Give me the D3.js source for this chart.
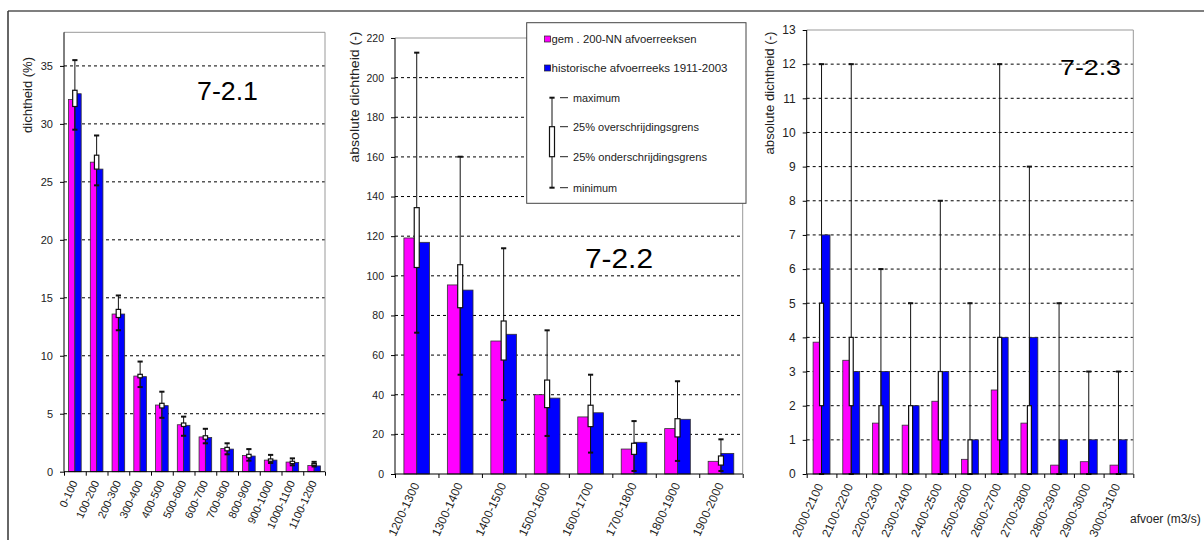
<!DOCTYPE html>
<html>
<head>
<meta charset="utf-8">
<script src="https://cdn.jsdelivr.net/npm/d3@7"></script>
<style>
  html, body { margin: 0; padding: 0; background: #fff; }
  svg { display: block; font-family: "Liberation Sans", Arial, sans-serif; }
</style>
</head>
<body>
<svg id="chart" width="1204" height="540"></svg>
<script>
// ---- 7-2.1 : relative density (%) per discharge class 0-1200 m3/s ----
const catsA = ["0-100","100-200","200-300","300-400","400-500","500-600","600-700","700-800","800-900","900-1000","1000-1100","1100-1200"];
const genA  = [32.1, 26.7, 13.6, 8.25, 5.75, 4.05, 3.0, 2.0, 1.4, 1.0, 0.83, 0.53];
const histA = [32.6, 26.1, 13.6, 8.2, 5.7, 4.0, 2.95, 1.95, 1.35, 1.0, 0.8, 0.5];
const maxA  = [35.5, 29.0, 15.2, 9.5, 6.9, 4.75, 3.7, 2.45, 1.95, 1.45, 1.15, 0.85];
const upA   = [32.9, 27.3, 14.0, 8.4, 5.9, 4.2, 3.1, 2.1, 1.5, 1.1, 0.9, 0.7];
const loA   = [31.5, 26.1, 13.3, 8.1, 5.5, 3.9, 2.8, 1.8, 1.2, 0.9, 0.7, 0.55];
const minA  = [29.5, 24.7, 12.2, 7.3, 4.65, 3.1, 2.45, 1.5, 0.95, 0.75, 0.55, 0.45];
const ticksA = [0, 5, 10, 15, 20, 25, 30, 35];

// ---- 7-2.2 : absolute density per discharge class 1200-2000 m3/s ----
const catsB = ["1200-1300","1300-1400","1400-1500","1500-1600","1600-1700","1700-1800","1800-1900","1900-2000"];
const genB  = [119.1, 95.4, 67.1, 40.0, 28.8, 12.6, 22.9, 6.4];
const histB = [116.9, 92.8, 70.5, 38.3, 30.9, 16.0, 27.6, 10.4];
const maxB  = [212.6, 160.1, 113.9, 72.5, 50.1, 26.7, 46.8, 17.5];
const upB   = [134.4, 105.6, 77.2, 47.4, 34.7, 15.5, 27.9, 9.1];
const loB   = [104.2, 83.9, 57.5, 33.5, 23.9, 9.9, 18.7, 4.5];
const minB  = [71.3, 50.1, 37.3, 19.2, 10.8, 1.5, 6.6, 1.5];
const ticksB = [0, 20, 40, 60, 80, 100, 120, 140, 160, 180, 200, 220];

// ---- 7-2.3 : absolute density per discharge class 2000-3100 m3/s ----
const catsC = ["2000-2100","2100-2200","2200-2300","2300-2400","2400-2500","2500-2600","2600-2700","2700-2800","2800-2900","2900-3000","3000-3100"];
const genC  = [3.86, 3.33, 1.49, 1.43, 2.13, 0.43, 2.46, 1.49, 0.26, 0.36, 0.26];
const histC = [7, 3, 3, 2, 3, 1, 4, 4, 1, 1, 1];
const maxC  = [12, 12, 6, 5, 8, 5, 12, 9, 5, 3, 3];
const upC   = [5, 4, 2, 2, 3, 1, 4, 2, 0, 0, 0];
const loC   = [2, 2, 0, 0, 1, 0, 1, 0, 0, 0, 0];
const minC  = [0, 0, 0, 0, 0, 0, 0, 0, 0, 0, 0];
const ticksC = [0, 1, 2, 3, 4, 5, 6, 7, 8, 9, 10, 11, 12, 13];

const seriesNames = ["gem . 200-NN afvoerreeksen", "historische afvoerreeks 1911-2003"];
const errorNames = ["maximum", "25% overschrijdingsgrens", "25% onderschrijdingsgrens", "minimum"];

const COL_GEN = "#ff00ff", COL_HIST = "#0000ff";

const svg = d3.select("#chart");

// outer frame (top and left edge)
svg.append("line").attr("x1", 8).attr("x2", 1204).attr("y1", 11).attr("y2", 11)
  .attr("stroke", "#555").attr("stroke-width", 1.5);
svg.append("line").attr("x1", 8).attr("x2", 8).attr("y1", 11).attr("y2", 540)
  .attr("stroke", "#333").attr("stroke-width", 1.5);

function panel(cfg) {
  const { cats, gen, hist, max, up, lo, min, ticks } = cfg;
  const g = svg.append("g");
  const x = d3.scaleBand().domain(cats).range([cfg.left, cfg.right]).padding(0);
  const xi = d3.scaleLinear().domain([0, cats.length]).range([cfg.left, cfg.right]);
  const y = d3.scaleLinear().domain([0, cfg.ymax]).range([cfg.bottom, cfg.top]);
  const gw = x.bandwidth() * cfg.group;
  const inner = d3.scaleBand().domain(["gen", "hist"])
    .range([(x.bandwidth() - gw) / 2, (x.bandwidth() + gw) / 2]).padding(0);

  // gridlines
  g.append("g").selectAll("line").data(ticks.filter(t => t > 0 && y(t) > cfg.top + 1)).join("line")
    .attr("x1", cfg.left).attr("x2", cfg.right)
    .attr("y1", d => y(d)).attr("y2", d => y(d))
    .attr("stroke", "#000").attr("stroke-dasharray", "3,3").attr("stroke-width", 1);

  // plot frame (top & right)
  g.append("path")
    .attr("d", `M${cfg.left},${y(cfg.ymax)}H${cfg.right}V${cfg.bottom}`)
    .attr("fill", "none").attr("stroke", "#999").attr("stroke-width", 1);

  // bars
  const rows = cats.map((c, i) => ({ c, gen: gen[i], hist: hist[i], max: max[i], up: up[i], lo: lo[i], min: min[i] }));
  const grp = g.append("g").selectAll("g").data(rows).join("g")
    .attr("transform", d => `translate(${x(d.c)},0)`);
  grp.append("rect")
    .attr("x", inner("gen")).attr("width", inner.bandwidth())
    .attr("y", d => y(d.gen)).attr("height", d => y(0) - y(d.gen))
    .attr("fill", COL_GEN).attr("stroke", "#333").attr("stroke-width", 0.8);
  grp.append("rect")
    .attr("x", inner("hist")).attr("width", inner.bandwidth())
    .attr("y", d => y(d.hist)).attr("height", d => y(0) - y(d.hist))
    .attr("fill", COL_HIST).attr("stroke", "#333").attr("stroke-width", 0.8);

  // spread markers: whisker min..max, box between 25% limits
  const cx = x.bandwidth() / 2;
  grp.append("line").attr("x1", cx).attr("x2", cx)
    .attr("y1", d => y(d.max)).attr("y2", d => y(d.min))
    .attr("stroke", "#111").attr("stroke-width", 1);
  grp.append("rect")
    .attr("x", cx - cfg.boxW / 2).attr("width", cfg.boxW)
    .attr("y", d => y(d.up)).attr("height", d => Math.max(0.01, y(d.lo) - y(d.up)))
    .attr("fill", "#fff").attr("stroke", "#111").attr("stroke-width", 1.2);
  ["max", "min"].forEach(k => {
    grp.append("line").attr("x1", cx - 2.6).attr("x2", cx + 2.6)
      .attr("y1", d => y(d[k])).attr("y2", d => y(d[k]))
      .attr("stroke", "#111").attr("stroke-width", 2);
  });

  // y axis
  g.append("g").attr("transform", `translate(${cfg.left},0)`)
    .call(d3.axisLeft(y).tickValues(ticks).tickSize(4).tickPadding(cfg.tickPad).tickFormat(d3.format("d")))
    .call(a => a.select(".domain").attr("stroke", "#000").attr("d", `M0,${cfg.bottom}V${y(cfg.ymax)}`))
    .call(a => a.selectAll("line").attr("stroke", "#000"))
    .call(a => a.selectAll("text").attr("font-size", cfg.tickFont).attr("fill", "#222")
      .attr("font-family", "Liberation Sans, Arial, sans-serif"));

  // x axis: ticks on class boundaries
  g.append("g").attr("transform", `translate(0,${cfg.bottom})`)
    .call(d3.axisBottom(xi).tickValues(d3.range(cats.length + 1)).tickSize(4).tickFormat(""))
    .call(a => a.select(".domain").attr("stroke", "#000").attr("d", `M${cfg.left},0H${cfg.right}`))
    .call(a => a.selectAll("line").attr("stroke", "#000"));

  // rotated class labels
  g.append("g").selectAll("text").data(cats).join("text")
    .attr("transform", d => `translate(${x(d) + cx + cfg.lblDx},${cfg.bottom + cfg.lblDy}) rotate(-65)`)
    .attr("text-anchor", "end").attr("font-size", cfg.lblFont).attr("fill", "#222")
    .text(d => d);

  // y title
  g.append("text")
    .attr("transform", `translate(${cfg.yTitleX},${cfg.yTitleY}) rotate(-90)`)
    .attr("text-anchor", "middle").attr("font-size", cfg.yTitleFont).attr("fill", "#222")
    .attr("textLength", cfg.yTitleLen).attr("lengthAdjust", "spacingAndGlyphs")
    .text(cfg.yTitle);

  // panel number
  g.append("text").attr("x", cfg.numX).attr("y", cfg.numY)
    .attr("font-size", cfg.numFont).attr("fill", "#000")
    .attr("textLength", cfg.numLen).attr("lengthAdjust", "spacingAndGlyphs")
    .text(cfg.num);
  return g;
}

panel({
  cats: catsA, gen: genA, hist: histA, max: maxA, up: upA, lo: loA, min: minA, ticks: ticksA,
  left: 64, right: 325, top: 32.3, bottom: 471.7, ymax: 37.9, group: 0.58, boxW: 4.4,
  tickPad: 7, tickFont: 11, lblFont: 11, lblDx: 3, lblDy: 11,
  yTitle: "dichtheid (%)", yTitleX: 32, yTitleY: 95, yTitleFont: 12, yTitleLen: 76,
  num: "7-2.1", numX: 197, numY: 100, numFont: 25, numLen: 61
});

panel({
  cats: catsB, gen: genB, hist: histB, max: maxB, up: upB, lo: loB, min: minB, ticks: ticksB,
  left: 395, right: 742.7, top: 38, bottom: 474, ymax: 220, group: 0.59, boxW: 5,
  tickPad: 7, tickFont: 10.5, lblFont: 12, lblDx: 3, lblDy: 11,
  yTitle: "absolute dichtheid (-)", yTitleX: 359, yTitleY: 97, yTitleFont: 12.5, yTitleLen: 131,
  num: "7-2.2", numX: 585, numY: 268, numFont: 28, numLen: 68
});

panel({
  cats: catsC, gen: genC, hist: histC, max: maxC, up: upC, lo: loC, min: minC, ticks: ticksC,
  left: 806.7, right: 1133.3, top: 30, bottom: 474, ymax: 13, group: 0.57, boxW: 4,
  tickPad: 7, tickFont: 12, lblFont: 12, lblDx: 2, lblDy: 12,
  yTitle: "absolute dichtheid (-)", yTitleX: 774, yTitleY: 93, yTitleFont: 12, yTitleLen: 123,
  num: "7-2.3", numX: 1060, numY: 75, numFont: 22, numLen: 61
});

// axis caption for discharge
svg.append("text").attr("x", 1130).attr("y", 523).attr("font-size", 12).attr("fill", "#222")
  .text("afvoer (m3/s)");

// legend
const lg = svg.append("g");
lg.append("rect").attr("x", 526.7).attr("y", 22.7).attr("width", 219.3).attr("height", 180.6)
  .attr("fill", "#fff").attr("stroke", "#444").attr("stroke-width", 1);
const swatch = [COL_GEN, COL_HIST];
const swY = [39, 68];
const swLen = [145, 176];
seriesNames.forEach((name, i) => {
  lg.append("rect").attr("x", 544.5).attr("y", swY[i] - 3).attr("width", 6).attr("height", 6)
    .attr("fill", swatch[i]).attr("stroke", "#222").attr("stroke-width", 0.7);
  lg.append("text").attr("x", 551.5).attr("y", swY[i] + 3.5).attr("font-size", 10.5).attr("fill", "#222")
    .attr("textLength", swLen[i]).attr("lengthAdjust", "spacingAndGlyphs").text(name);
});
const eY = [97.7, 126.7, 156.7, 187.7];
const eLen = [47, 126, 134, 44];
lg.append("line").attr("x1", 552).attr("x2", 552).attr("y1", eY[0]).attr("y2", eY[3])
  .attr("stroke", "#111").attr("stroke-width", 1);
lg.append("rect").attr("x", 549.5).attr("y", eY[1]).attr("width", 5).attr("height", eY[2] - eY[1])
  .attr("fill", "#fff").attr("stroke", "#111").attr("stroke-width", 1.2);
[eY[0], eY[3]].forEach(v => lg.append("line").attr("x1", 549.4).attr("x2", 554.6)
  .attr("y1", v).attr("y2", v).attr("stroke", "#111").attr("stroke-width", 2));
errorNames.forEach((name, i) => {
  lg.append("line").attr("x1", 560).attr("x2", 568).attr("y1", eY[i]).attr("y2", eY[i])
    .attr("stroke", "#222").attr("stroke-width", 1);
  lg.append("text").attr("x", 573).attr("y", eY[i] + 3.8).attr("font-size", 10.5).attr("fill", "#222")
    .attr("textLength", eLen[i]).attr("lengthAdjust", "spacingAndGlyphs").text(name);
});
</script>
</body>
</html>
